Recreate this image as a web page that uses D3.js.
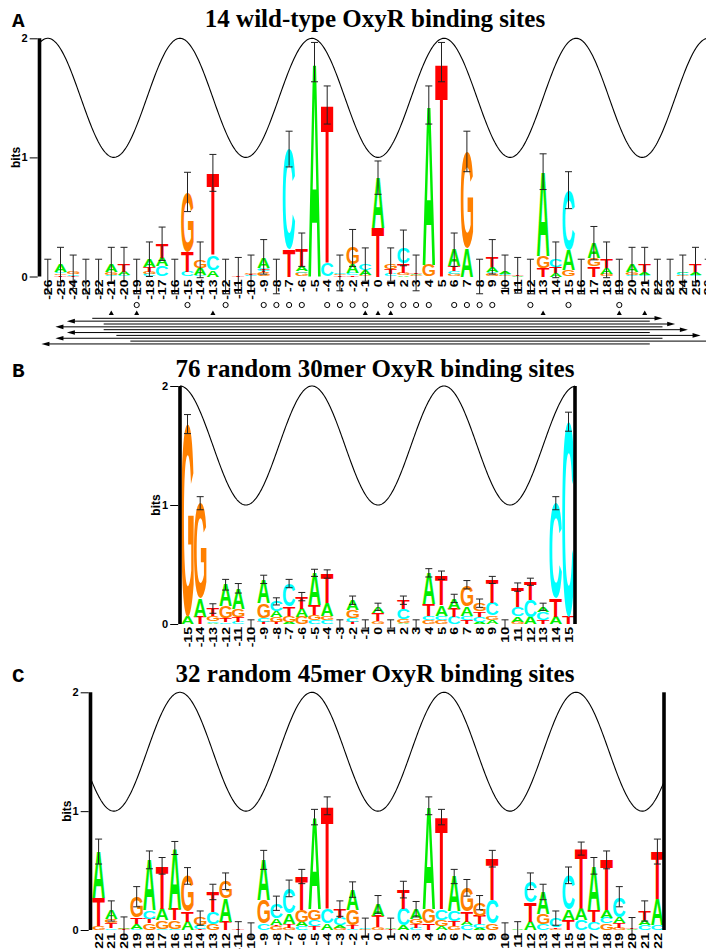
<!DOCTYPE html>
<html>
<head>
<meta charset="utf-8">
<script src="https://cdn.jsdelivr.net/npm/d3@7"></script>
<style>
  html, body { margin: 0; padding: 0; background: #fff; }
  svg { display: block; }
</style>
</head>
<body>
<script>
// ---------------- DATA ----------------
const titles = ["14 wild-type OxyR binding sites", "76 random 30mer OxyR binding sites", "32 random 45mer OxyR binding sites"];
const panelLabels = ["A", "B", "C"];

const posA = d3.range(-26, 27);
const posB = d3.range(-15, 16);
const posC = d3.range(-22, 23);

// letter stacks, bottom to top: "<base><bits>"
const stacksA = [
  "", "T.01 G.015 C.015 A.06", "T.005 C.015 G.02", "", "", "C.015 G.025 A.06", "C.01 A.03 T.06", "",
  "C.02 G.02 T.04 A.065", "C.085 A.07 T.12", "", "C.04 T.17 G.5", "C.01 A.06 G.07", "A.055 C.125 T.69",
  "", "T.01", "C.01 T.01 G.01", "G.035 T.015 C.025 A.09", "", "T.23 C.84", "G.03 C.015 A.04 T.14",
  "A1.8", "C.11 T1.33", "T.01 G.01 C.01", "T.01 C.02 A.07 G.14", "G.01 A.04 C.05", "T.41 A.42",
  "C.02 T.04 G.04", "A.01 G.02 T.08 C.13", "G.01 A.01 T.01", "G.1 A1.34", "T1.8", "G.02 C.025 T.04 A.14",
  "A.24 G.81", "", "G.025 C.015 A.04 T.085", "G.01 C.01 A.02", "A.005 T.005", "", "T.07 G.1 A.71",
  "A.03 T.05 C.06", "G.055 A.17 C.5", "", "T.085 G.07 A.125", "G.02 A.05 T.07", "", "C.015 G.025 A.06",
  "C.015 A.025 T.06", "", "", "G.01 C.02 A.01", "C.015 A.025 T.06", ""
];
const errA = [
  .145, .145, .14, .145, .145, .145, .145, .145, .145, .14, .145, .165, .15, .155, .145, .15, .15,
  .145, .145, .15, .14, .165, .16, .15, .155, .14, .14, .14, .15, .15, .16, .165, .14, .17, .145,
  .145, .14, .15, .145, .15, .15, .155, .145, .14, .15, .145, .145, .145, .145, .145, .14, .145, .145
];

const stacksB = [
  "A.06 G1.62", "T.06 A.155 G.8", "A.01 C.015 G.045 T.06", "C.015 T.035 G.1 A.18", "C.02 T.04 G.07 A.17",
  "", "T.02 C.03 G.125 A.2", "T.015 G.04 A.05 C.085", "A.02 G.05 T.08 C.19", "G.06 A.07 T.1",
  "C.035 G.04 T.085 A.27", "C.035 G.035 A.105 T.245", "", "T.02 C.03 G.065 A.085", "",
  "G.025 T.065 A.055", "", "A.01 G.035 C.085 T.07", "", "G.035 C.035 T.1 A.26", "G.035 C.035 A.09 T.25",
  "C.06 T.07 A.085", "T.035 C.035 A.08 G.18", "A.02 C.04 T.045 G.07", "A.035 G.035 C.105 T.195", "",
  "G.02 A.045 C.08 T.165", "A.06 C.14 T.155", "T.035 C.07 A.04", "A.06 T.155 C.8", "T.06 C1.64"
];
const errB = [
  .08, .055, .04, .045, .04, .035, .035, .03, .035, .035, .03, .035, .035, .035, .035, .03,
  .035, .035, .035, .035, .035, .035, .035, .035, .03, .035, .035, .03, .03, .055, .08
];

const stacksC = [
  "G.03 T.24 A.39", "C.015 T.04 G.035 A.07", "T.005 G.005 A.01", "C.01 A.04 T.055 G.175",
  "G.055 T.04 C.07 A.425", "C.01 G.07 A.1 T.36", "C.01 G.07 T.1 A.51", "A.07 T.085 G.3",
  "T.01 C.03 G.06", "G.05 C.1 T.17", "T.07 A.2 G.14", "T.01", "", "C.055 G.2 A.335",
  "G.03 T.015 A.055 C.125", "G.02 T.03 A.09 C.21", "C.03 A.04 G.1 T.28", "T.03 C.055 G.09 A.775",
  "A.055 C.125 T.865", "G.02 A.02 C.065 T.075", "C.01 T.03 G.13 A.17", "G.01 C.01",
  "G.025 T.095 A.095", "T.01 A.01", "A.04 C.14 T.16", "C.02 T.03 G.04 A.085", "T.055 G.125 A.865",
  "A.03 G.055 C.09 T.775", "G.035 T.04 C.085 A.29", "C.04 A.03 T.085 G.2", "A.02 C.03 T.07 G.11",
  "G.055 C.2 T.345", "", "A.01", "A.07 T.165 C.175", "C.05 G.085 A.185", "G.01 T.015 C.075",
  "T.085 A.085 C.29", "C.085 A.1 T.5", "C.07 T.1 A.37", "G.055 C.05 A.06 T.425",
  "G.02 T.04 A.05 C.17", "A.01 T.005", "C.04 A.04 T.08", "C.04 A.22 T.4"
];
const errC = [
  .105, .085, .09, .085, .075, .07, .055, .07, .06, .065, .07, .06, .06, .08, .06, .07, .06, .065,
  .075, .065, .065, .08, .075, .08, .07, .065, .075, .065, .06, .07, .06, .07, .06, .06, .07, .065,
  .06, .07, .055, .07, .075, .085, .09, .085, .105
];

// helix (DNA turn) drawn over each logo: 1 to 2 bits, 10.4 bp per turn, trough at position 0
const helixPeriod = 10.4, helixLow = 1, helixHigh = 2;

// panel A annotations
const circleSites = [-19, -15, -12, -9, -8, -7, -6, -4, -3, -2, -1, 1, 2, 3, 4, 6, 7, 8, 9, 12, 15, 19];
const triangleSites = [-21, -19, -13, -1, 0, 1, 13, 19, 21];
const arrowFrom = [-22.5, 21.4, -21.6, 22.4, -21.6, 21.4, -20.6, 22.4, -19.5, 21.4];
const arrowTo   = [22.4, -24.5, 23.4, -25.4, 24.4, -24.5, 25.4, -25.4, 26.6, -26.5];

const colors = { A: "#00ee00", C: "#00ffff", G: "#ff8000", T: "#ff0000" };

// ---------------- LAYOUT ----------------
const W = 706, H = 949;
const svg = d3.select("body").append("svg").attr("width", W).attr("height", H);

const step = 12.7, center = 378;
const x = d3.scaleLinear().domain([-26, 26]).range([center - 26 * step, center + 26 * step]);

const parse = s => s.trim() === "" ? [] : s.trim().split(/\s+/).map(t => ({ b: t[0], v: +t.slice(1) }));

// glyph ink metrics
const ctx = document.createElement("canvas").getContext("2d");
ctx.font = "bold 100px 'Liberation Sans'";
const met = {};
for (const L of "ACGT") {
  const m = ctx.measureText(L);
  let l = m.actualBoundingBoxLeft, r = m.actualBoundingBoxRight, a = m.actualBoundingBoxAscent, d = m.actualBoundingBoxDescent;
  if (!(r > 0) || !(a > 0)) { l = -3; r = 70; a = 72; d = 0; }
  met[L] = { l, r, a, d };
}

const panels = [
  { pos: posA, stacks: stacksA, err: errA, y0: 276.5, y2: 38.3, axisX: 39.5, rightX: null, titleY: 27, labelY: 27 },
  { pos: posB, stacks: stacksB, err: errB, y0: 624, y2: 386, axisX: 180, rightX: 575, titleY: 376.5, labelY: 376.5 },
  { pos: posC, stacks: stacksC, err: errC, y0: 930, y2: 692.3, axisX: 90.5, rightX: 664, titleY: 682, labelY: 682 }
];

panels.forEach((P, pi) => {
  const g = svg.append("g");
  const y = d3.scaleLinear().domain([0, 2]).range([P.y0, P.y2]);

  // title and panel letter
  g.append("text").attr("x", 375).attr("y", P.titleY).attr("text-anchor", "middle")
    .attr("font-family", "'Liberation Serif', serif").attr("font-weight", "bold").attr("font-size", 25)
    .text(titles[pi]);
  g.append("text").attr("x", 12).attr("y", P.labelY)
    .attr("font-family", "'Liberation Mono', monospace").attr("font-weight", "bold").attr("font-size", 21)
    .text(panelLabels[pi]);

  // helix wave
  const pStart = x.invert(P.axisX), pEnd = x.invert(P.rightX ? P.rightX : W);
  const n = 600;
  const wavePts = d3.range(n + 1).map(i => {
    const p = pStart + (pEnd - pStart) * i / n;
    const v = (helixLow + helixHigh) / 2 - (helixHigh - helixLow) / 2 * Math.cos(2 * Math.PI * p / helixPeriod);
    return [x(p), y(v)];
  });
  g.append("path").attr("d", d3.line()(wavePts)).attr("fill", "none").attr("stroke", "#000").attr("stroke-width", 1.1);

  // letters
  const lw = step * 0.98;
  const totals = [];
  P.pos.forEach((p, i) => {
    let cum = 0;
    parse(P.stacks[i]).forEach(({ b, v }) => {
      const m = met[b];
      const yb = y(cum), yt = y(cum + v);
      const h = yb - yt;
      cum += v;
      if (h <= 0) return;
      const sx = lw / (m.l + m.r), sy = h / (m.a + m.d);
      g.append("text").text(b)
        .attr("font-family", "'Liberation Sans', Arial, sans-serif").attr("font-weight", "bold").attr("font-size", 100)
        .attr("fill", colors[b])
        .attr("transform", `translate(${x(p) - lw / 2},${yt}) scale(${sx},${sy}) translate(${m.l},${m.a})`);
    });
    totals[i] = cum;
  });

  // error bars
  P.pos.forEach((p, i) => {
    const tot = totals[i], e = P.err[i];
    const xt = x(p), ya = y(tot + e), yb = y(tot - e);
    const eb = g.append("g").attr("stroke", "#222").attr("stroke-width", 1);
    eb.append("line").attr("x1", xt).attr("x2", xt).attr("y1", ya).attr("y2", yb);
    eb.append("line").attr("x1", xt - 3.5).attr("x2", xt + 3.5).attr("y1", ya).attr("y2", ya);
    eb.append("line").attr("x1", xt - 3.5).attr("x2", xt + 3.5).attr("y1", yb).attr("y2", yb);
  });

  // y axis
  const ax = g.append("g").attr("transform", `translate(${P.axisX - 1.8},0)`)
    .call(d3.axisLeft(y).tickValues([0, 1, 2]).tickSize(8).tickPadding(2).tickFormat(d3.format("d")));
  ax.select(".domain").remove();
  ax.selectAll("text").attr("font-family", "'Liberation Sans', Arial, sans-serif").attr("font-weight", "bold").attr("font-size", 11);
  g.append("line").attr("x1", P.axisX).attr("x2", P.axisX).attr("y1", P.y0).attr("y2", P.y2)
    .attr("stroke", "#000").attr("stroke-width", 3.6);
  if (P.rightX) {
    g.append("line").attr("x1", P.rightX).attr("x2", P.rightX).attr("y1", P.y0).attr("y2", P.y2)
      .attr("stroke", "#000").attr("stroke-width", 3.6);
  }
  g.append("text").attr("transform", `translate(${P.axisX - 20},${y(1)}) rotate(-90)`)
    .attr("text-anchor", "middle").attr("font-family", "'Liberation Sans', Arial, sans-serif")
    .attr("font-weight", "bold").attr("font-size", 12).text("bits");

  // x axis (rotated position labels, tall narrow glyphs)
  const bx = g.append("g").attr("transform", `translate(0,${P.y0})`)
    .call(d3.axisBottom(x).tickValues(P.pos).tickSize(0).tickFormat(d3.format("d")));
  bx.select(".domain").remove();
  bx.selectAll("text")
    .attr("font-family", "'Liberation Sans', Arial, sans-serif").attr("font-weight", "bold").attr("font-size", 10)
    .attr("transform", "rotate(-90) scale(1.4,1)").attr("x", -2.2).attr("y", 0).attr("dy", "0.36em")
    .style("text-anchor", "end").text(d => d < 0 ? "-" + Math.abs(d) : String(d));

  // panel A annotations
  if (pi === 0) {
    g.selectAll("circle.site").data(circleSites).join("circle")
      .attr("cx", d => x(d)).attr("cy", 305).attr("r", 2.6)
      .attr("fill", "none").attr("stroke", "#000").attr("stroke-width", 1);
    g.selectAll("path.tri").data(triangleSites).join("path")
      .attr("transform", d => `translate(${x(d)},313.5)`)
      .attr("d", d3.symbol(d3.symbolTriangle, 11)());
    arrowFrom.forEach((f, i) => {
      const t = arrowTo[i];
      const yy = 318.3 + i * 2.85;
      const x1 = x(f), x2 = x(t), dir = Math.sign(x2 - x1);
      g.append("line").attr("x1", x1).attr("x2", x2 - dir * 6).attr("y1", yy).attr("y2", yy)
        .attr("stroke", "#000").attr("stroke-width", 1);
      g.append("path").attr("d", `M${x2},${yy} L${x2 - dir * 8},${yy - 2.3} L${x2 - dir * 8},${yy + 2.3} Z`).attr("fill", "#000");
    });
  }
});
</script>
</body>
</html>
